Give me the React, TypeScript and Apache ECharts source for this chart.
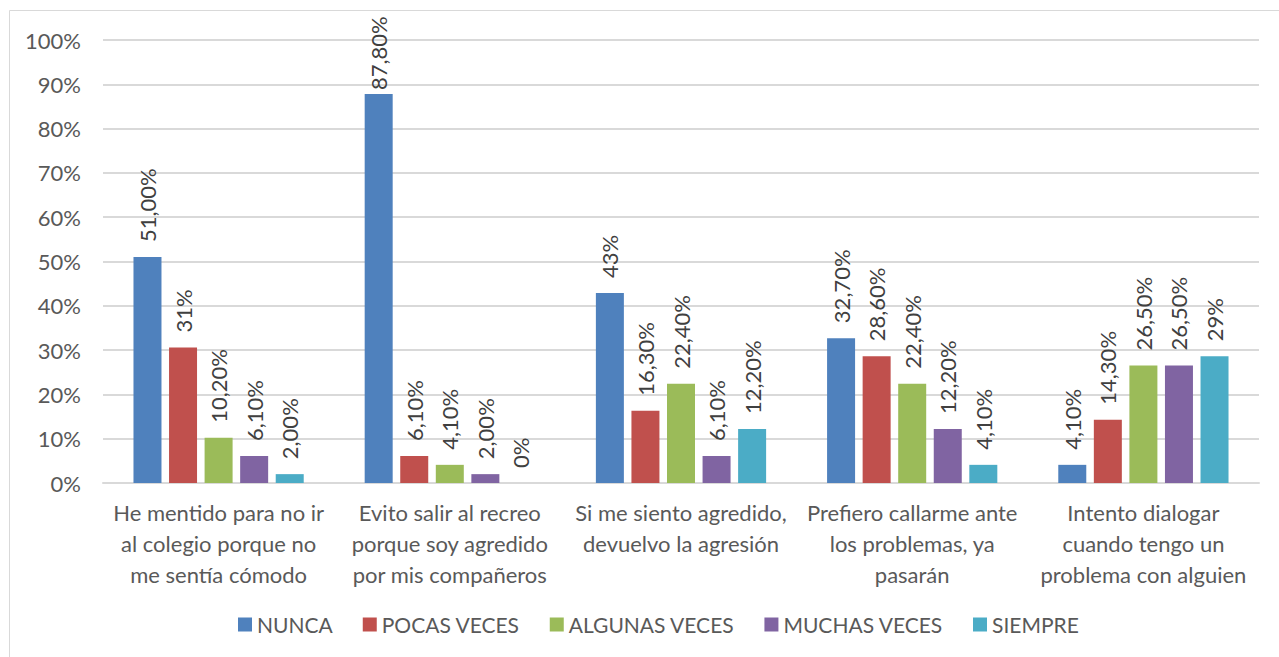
import React, { useEffect, useRef } from "react";
import * as echarts from "echarts";

const categories = [
  "He mentido para no ir\nal colegio porque no\nme sentía cómodo",
  "Evito salir al recreo\nporque soy agredido\npor mis compañeros",
  "Si me siento agredido,\ndevuelvo la agresión",
  "Prefiero callarme ante\nlos problemas, ya\npasarán",
  "Intento dialogar\ncuando tengo un\nproblema con alguien",
];

const seriesNames = ["NUNCA", "POCAS VECES", "ALGUNAS VECES", "MUCHAS VECES", "SIEMPRE"];
const seriesColors = ["#4F81BD", "#C0504D", "#9BBB59", "#8064A2", "#4BACC6"];

const nunca = [51.0, 87.8, 42.9, 32.7, 4.1];
const pocasVeces = [30.6, 6.1, 16.3, 28.6, 14.3];
const algunasVeces = [10.2, 4.1, 22.4, 22.4, 26.5];
const muchasVeces = [6.1, 2.0, 6.1, 12.2, 26.5];
const siempre = [2.0, 0, 12.2, 4.1, 28.6];

const nuncaLabels = ["51,00%", "87,80%", "43%", "32,70%", "4,10%"];
const pocasLabels = ["31%", "6,10%", "16,30%", "28,60%", "14,30%"];
const algunasLabels = ["10,20%", "4,10%", "22,40%", "22,40%", "26,50%"];
const muchasLabels = ["6,10%", "2,00%", "6,10%", "12,20%", "26,50%"];
const siempreLabels = ["2,00%", "0%", "12,20%", "4,10%", "29%"];

const yTicks = { min: 0, max: 100, interval: 10 };

const allValues = [nunca, pocasVeces, algunasVeces, muchasVeces, siempre];
const allLabels = [nuncaLabels, pocasLabels, algunasLabels, muchasLabels, siempreLabels];

const FONT = "Lato";
const TEXT = "#595959";

export default function App() {
  const ref = useRef<HTMLDivElement>(null);
  useEffect(() => {
    if (!ref.current) return;
    const chart = echarts.init(ref.current, undefined, { renderer: "svg" });
    chart.setOption({
      animation: false,
      textStyle: { fontFamily: FONT },
      graphic: [
        {
          type: "rect",
          shape: { x: 9.5, y: 10.5, width: 1300, height: 700 },
          style: { fill: "none", stroke: "#D9D9D9", lineWidth: 1 },
          silent: true,
        },
      ],
      grid: { left: 103, right: 20, top: 40, bottom: 174 },
      legend: {
        left: 233,
        top: 609,
        itemWidth: 14,
        itemHeight: 14,
        itemGap: 30,
        icon: "rect",
        textStyle: { fontFamily: FONT, fontSize: 21, color: TEXT },
        data: seriesNames,
      },
      xAxis: {
        type: "category",
        data: categories,
        axisLine: { lineStyle: { color: "#D9D9D9", width: 2 } },
        axisTick: { show: false },
        axisLabel: {
          interval: 0,
          fontFamily: FONT,
          fontSize: 22,
          color: TEXT,
          lineHeight: 31,
          margin: 14,
        },
      },
      yAxis: {
        type: "value",
        min: yTicks.min,
        max: yTicks.max,
        interval: yTicks.interval,
        axisLine: { show: false },
        axisTick: { show: false },
        splitLine: { lineStyle: { color: "#D9D9D9", width: 2 } },
        axisLabel: {
          formatter: "{value}%",
          fontFamily: FONT,
          fontSize: 22,
          color: TEXT,
          margin: 22,
        },
      },
      series: seriesNames.map((name, si) => ({
        name,
        type: "bar",
        data: allValues[si].map((v) =>
          v > 80 ? { value: v, label: { distance: 4 } } : v
        ),
        barWidth: 28,
        barGap: "27%",
        itemStyle: { color: seriesColors[si] },
        label: {
          show: true,
          position: "top",
          rotate: 90,
          align: "left",
          verticalAlign: "middle",
          distance: 15,
          fontFamily: FONT,
          fontSize: 22,
          color: "#404040",
          formatter: (p: any) => allLabels[si][p.dataIndex],
        },
      })),
    });
    return () => chart.dispose();
  }, []);
  return (
    <div
      ref={ref}
      style={{ position: "fixed", left: 0, top: 0, width: 1279, height: 657, background: "#fff" }}
    />
  );
}
